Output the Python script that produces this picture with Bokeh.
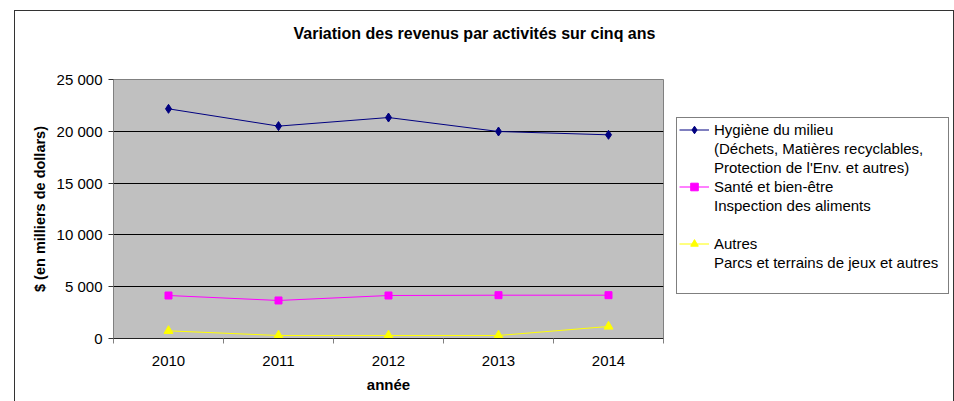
from bokeh.plotting import figure
from bokeh.models import Range1d, FixedTicker, Legend, LegendItem, Title
from bokeh.layouts import row
from bokeh.embed import file_html
from bokeh.resources import INLINE

# ---- data ----
years = [2010, 2011, 2012, 2013, 2014]
hygiene = [22170, 20500, 21330, 19980, 19660]
sante = [4150, 3670, 4150, 4180, 4180]
autres = [740, 290, 290, 290, 1160]

y_ticks = [0, 5000, 10000, 15000, 20000, 25000]
y_tick_labels = ["0", "5 000", "10 000", "15 000", "20 000", "25 000"]
x_bounds = [2009.5, 2010.5, 2011.5, 2012.5, 2013.5, 2014.5]

title_text = "Variation des revenus par activités sur cinq ans"
y_label = "$ (en milliers de dollars)"
x_label = "année"
hygiene_label = ["Hygiène du milieu", "(Déchets, Matières recyclables,", "Protection de l'Env. et autres)"]
sante_label = ["Santé et bien-être", "Inspection des aliments", " "]
autres_label = ["Autres", "Parcs et terrains de jeux et autres", " "]

FONT = "Liberation Sans"
NAVY, MAGENTA, YELLOW = "#000080", "#FF00FF", "#FFFF00"

# ---------------- main chart ----------------
p = figure(width=659, height=390, output_backend="svg", toolbar_location=None,
           x_range=Range1d(x_bounds[0], x_bounds[-1]), y_range=Range1d(y_ticks[0], y_ticks[-1]),
           min_border_left=98, min_border_top=68, min_border_right=11, min_border_bottom=63)
p.background_fill_color = "#C0C0C0"
p.border_fill_color = "white"
p.outline_line_color = "#808080"
p.outline_line_width = 1

# titles (spacer nearest the frame, then main title)
spacer = Title(text=" ", text_font_size="10px", standoff=23)
p.add_layout(spacer, "above")
main = Title(text=title_text, align="left", offset=180, vertical_align="top", standoff=0,
             text_font=FONT, text_font_size="16px", text_font_style="bold", text_color="black")
p.add_layout(main, "above")

p.xgrid.grid_line_color = None
p.ygrid.grid_line_color = "black"
p.ygrid.grid_line_width = 1

yax = p.yaxis[0]
yax.ticker = FixedTicker(ticks=y_ticks)
yax.major_label_overrides = dict(zip(y_ticks, y_tick_labels))
yax.axis_label = y_label
yax.axis_label_text_font = FONT
yax.axis_label_text_font_size = "14.5px"
yax.axis_label_text_font_style = "bold"
yax.axis_label_text_color = "black"
yax.axis_label_standoff = 6
yax.major_label_text_font = FONT
yax.major_label_text_font_size = "15px"
yax.major_label_text_color = "black"
yax.major_label_standoff = 6
yax.major_tick_in = 0
yax.major_tick_out = 5
yax.major_tick_line_color = "#333333"
yax.minor_tick_line_color = None
yax.axis_line_color = "#808080"

xax = p.xaxis[0]
xax.ticker = FixedTicker(ticks=years, minor_ticks=x_bounds)
xax.major_label_overrides = {y: str(y) for y in years}
xax.axis_label = x_label
xax.axis_label_text_font = FONT
xax.axis_label_text_font_size = "15px"
xax.axis_label_text_font_style = "bold"
xax.axis_label_text_color = "black"
xax.axis_label_standoff = 7
xax.major_label_text_font = FONT
xax.major_label_text_font_size = "15px"
xax.major_label_text_color = "black"
xax.major_label_standoff = 12
xax.major_tick_line_color = None
xax.major_tick_in = 0
xax.major_tick_out = 0
xax.minor_tick_in = 0
xax.minor_tick_out = 5
xax.minor_tick_line_color = "#808080"
xax.axis_line_color = "#222222"

p.line(years, hygiene, line_color=NAVY, line_width=1)
p.scatter(years, hygiene, marker="diamond", size=9, color=NAVY)
p.line(years, sante, line_color=MAGENTA, line_width=1)
p.scatter(years, sante, marker="square", size=7, color=MAGENTA)
p.line(years, autres, line_color=YELLOW, line_width=1)
p.scatter(years, autres, marker="triangle", size=9, color=YELLOW)

# ---------------- legend panel ----------------
# Its own unit ranges: the series drawn here (same data) fall outside them, so only
# their legend glyphs are visible.
q = figure(width=279, height=390, output_backend="svg", toolbar_location=None,
           x_range=Range1d(0, 1), y_range=Range1d(0, 1),
           x_axis_location=None, y_axis_location=None,
           min_border_left=0, min_border_right=0, min_border_top=0, min_border_bottom=0)
q.outline_line_color = None
q.background_fill_color = "white"
q.border_fill_color = "white"
q.grid.grid_line_color = None

l1 = q.line(years, hygiene, line_color=NAVY, line_width=1)
m1 = q.scatter(years, hygiene, marker="diamond", size=9, color=NAVY)
l2 = q.line(years, sante, line_color=MAGENTA, line_width=1)
m2 = q.scatter(years, sante, marker="square", size=7, color=MAGENTA)
l3 = q.line(years, autres, line_color=YELLOW, line_width=1)
m3 = q.scatter(years, autres, marker="triangle", size=9, color=YELLOW)
blank = q.line(years, autres, line_alpha=0)

items = [
    LegendItem(label=hygiene_label[0], renderers=[l1, m1]),
    LegendItem(label=hygiene_label[1], renderers=[blank]),
    LegendItem(label=hygiene_label[2], renderers=[blank]),
    LegendItem(label=sante_label[0], renderers=[l2, m2]),
    LegendItem(label=sante_label[1], renderers=[blank]),
    LegendItem(label=sante_label[2], renderers=[blank]),
    LegendItem(label=autres_label[0], renderers=[l3, m3]),
    LegendItem(label=autres_label[1], renderers=[blank]),
    LegendItem(label=autres_label[2], renderers=[blank]),
]
legend = Legend(items=items, location=(2, 44), orientation="vertical",
                padding=2, spacing=0, margin=0, label_height=19, glyph_height=19,
                glyph_width=30, label_standoff=5, label_width=232,
                border_line_color="black", border_line_width=1,
                background_fill_color="white", background_fill_alpha=1,
                label_text_font=FONT, label_text_font_size="15px", label_text_color="black")
q.add_layout(legend, "center")

lay = row(p, q)
lay.styles = {"margin-left": "14px", "margin-top": "10px",
              "border-left": "1px solid #333333", "border-top": "1px solid #333333",
              "border-right": "1px solid #333333"}

open("out.html", "w").write(file_html(lay, INLINE))
